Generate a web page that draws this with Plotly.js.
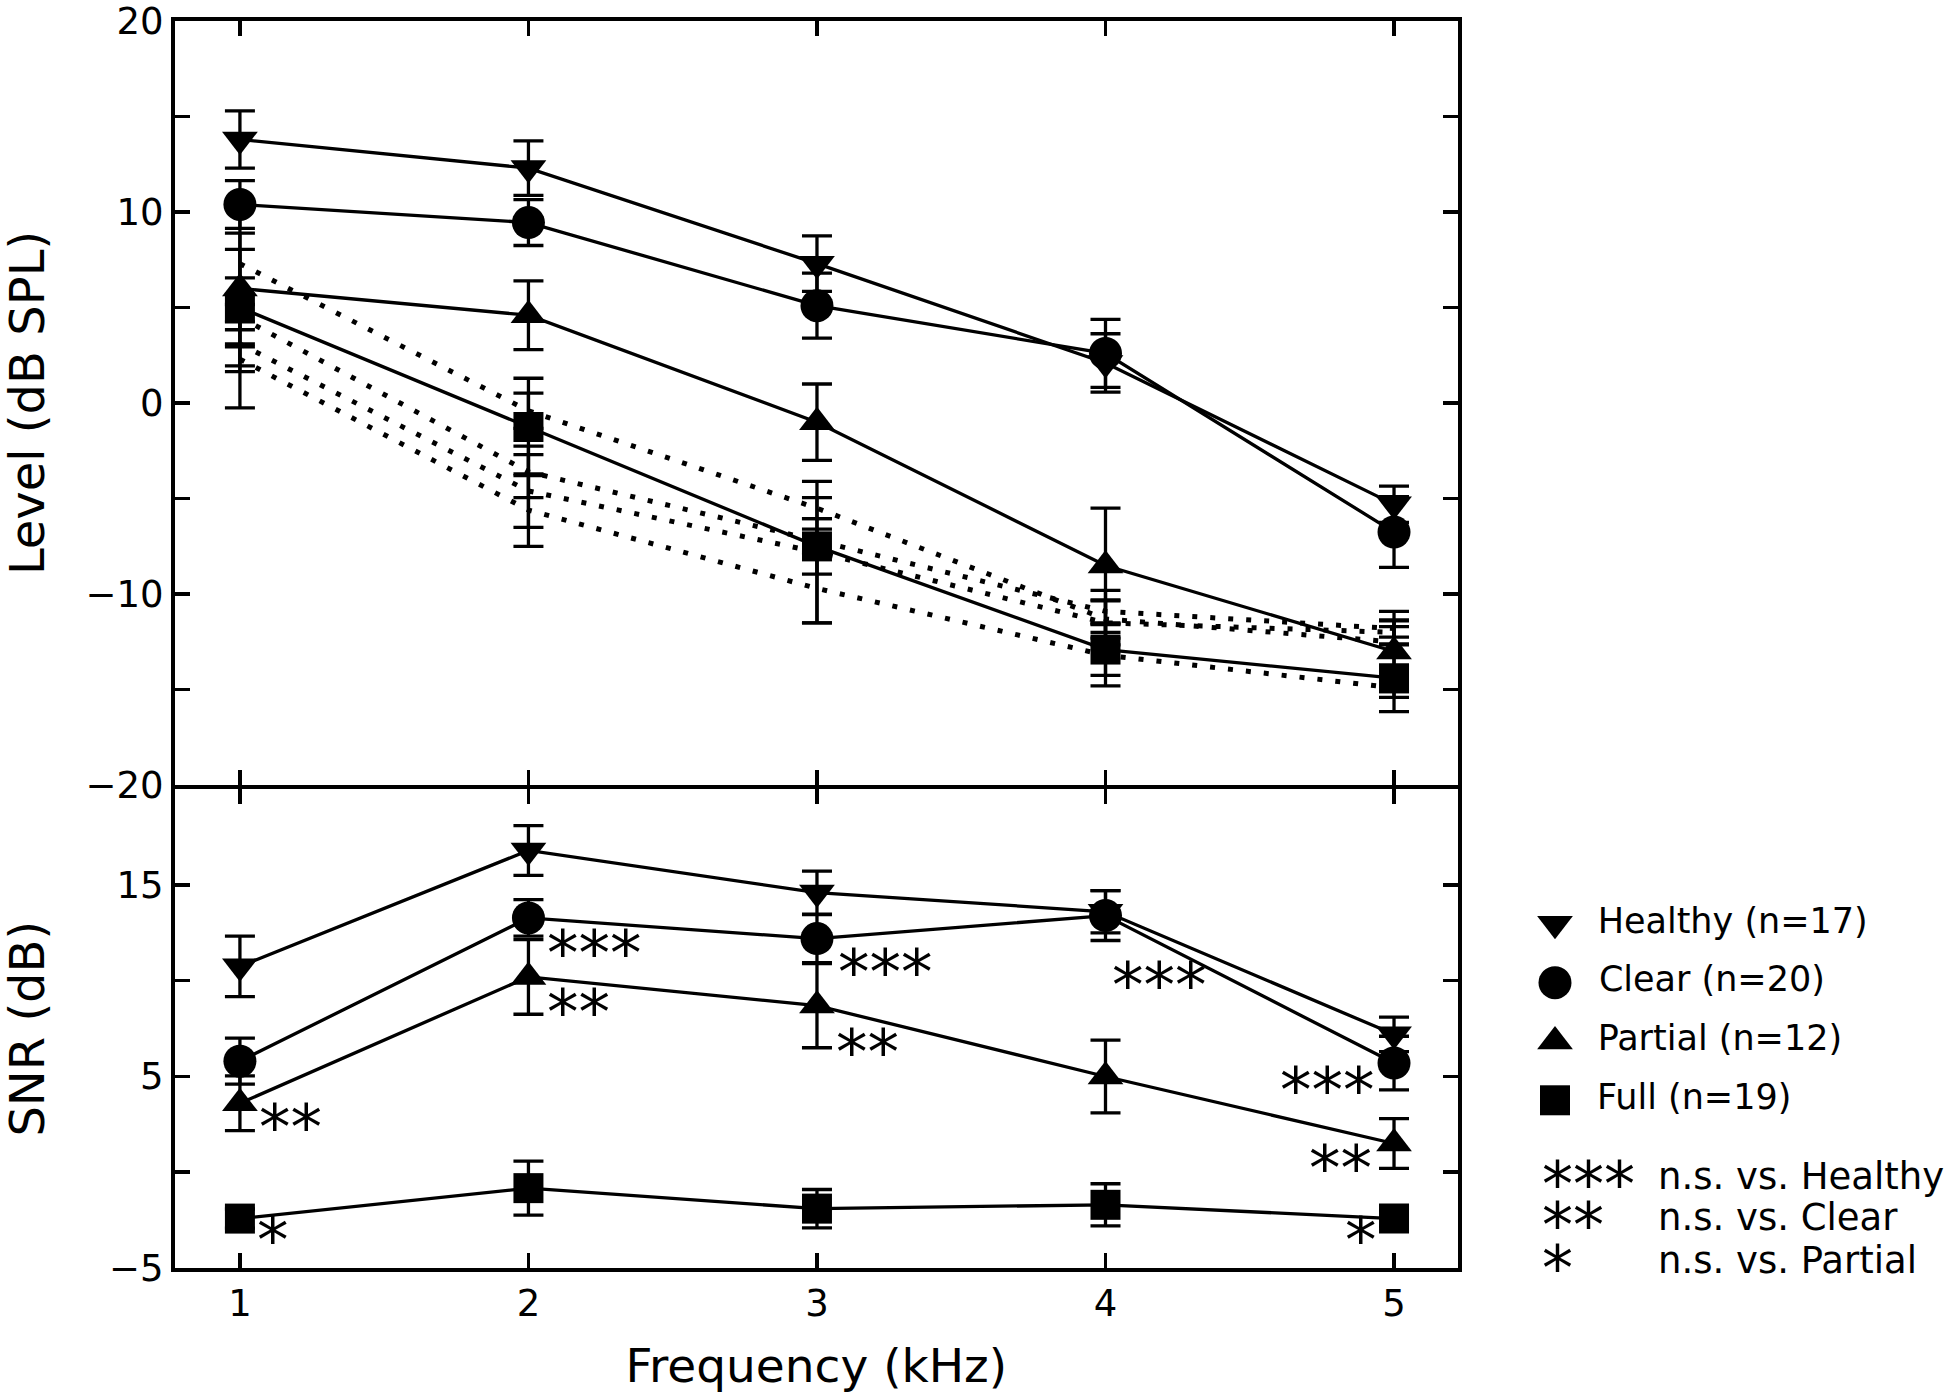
<!DOCTYPE html>
<html><head><meta charset="utf-8">
<script src="https://cdn.plot.ly/plotly-3.0.1.min.js"></script>
<style>html,body{margin:0;padding:0;background:#fff}</style>
</head><body><div id="chart" style="width:1950px;height:1393px"></div>
<script>
// ---------------- data ----------------
const freq = [1, 2, 3, 4, 5];
const groups = ['Healthy (n=17)', 'Clear (n=20)', 'Partial (n=12)', 'Full (n=19)'];

// Level (dB SPL) – top panel
const levelHealthy = [13.8, 12.3, 7.3, 2.1, -5.3];
const levelHealthyErr = [1.5, 1.43, 1.45, 1.53, 0.95];
const levelClear = [10.4, 9.45, 5.1, 2.6, -6.75];
const levelClearErr = [1.25, 1.2, 1.7, 1.78, 1.85];
const levelPartial = [6.0, 4.6, -1.0, -8.5, -13.0];
const levelPartialErr = [2.9, 1.8, 2.0, 3.0, 2.1];
const levelFull = [5.0, -1.25, -7.5, -12.9, -14.4];
const levelFullErr = [5.25, 2.55, 1.45, 1.35, 1.75];

// Noise floors (dotted)
const noiseA = [7.3, -0.4, -5.5, -11.3, -12.5];
const noiseAErr = [0.75, 0.92, 0.55, 1.0, 0.8];
const noiseB = [4.5, -3.6, -7.2, -10.9, -11.8];
const noiseBErr = [0.66, 1.35, 0.6, 1.1, 0.45];
const noiseC = [3.1, -4.6, -7.8, -11.5, -12.0];
const noiseCErr = [1.15, 1.9, 3.7, 1.15, 0.6];
const noiseD = [2.3, -5.6, -9.7, -13.2, -14.9];
const noiseDErr = [0.65, 1.9, 1.8, 1.6, 0.5];

// SNR (dB) – bottom panel
const snrHealthy = [10.75, 16.8, 14.6, 13.6, 7.2];
const snrHealthyErr = [1.58, 1.3, 1.12, 1.1, 0.9];
const snrClear = [5.8, 13.28, 12.2, 13.4, 5.7];
const snrClearErr = [1.2, 0.95, 1.25, 1.3, 1.4];
const snrPartial = [3.6, 10.2, 8.7, 5.0, 1.5];
const snrPartialErr = [1.43, 1.95, 2.2, 1.9, 1.3];
const snrFull = [-2.42, -0.83, -1.9, -1.7, -2.42];
const snrFullErr = [0.5, 1.41, 1.0, 1.1, 0.4];

// significance marks (which group, at which frequency)
const sigFreqIdx = [0, 0, 1, 1, 2, 2, 3, 4, 4, 4];
const sigGroupIdx = [2, 3, 1, 2, 1, 2, 1, 1, 2, 3];
const sigText = ['**', '*', '***', '**', '***', '**', '***', '***', '**', '*'];

const keyStars = ['***', '**', '*'];
const keyText = ['n.s. vs. Healthy', 'n.s. vs. Clear', 'n.s. vs. Partial'];

const yTopTicks = [-20, -15, -10, -5, 0, 5, 10, 15, 20];
const yTopLabels = ['\u221220', '', '\u221210', '', '0', '', '10', '', '20'];
const yBotTicks = [-5, 0, 5, 10, 15, 20];
const yBotLabels = ['\u22125', '', '5', '', '15', ''];

// ---------------- styling / placement ----------------
const symbols = ['triangle-down', 'circle', 'triangle-up', 'square'];
const markerSizes = [31, 33, 31, 30];
const FONT = 'DejaVu Sans, Verdana, sans-serif';
const W = 1950, H = 1393;
const mL = 175, mR = 0, mT = 21, mB = 125;
const plotW = W - mL - mR, plotH = H - mT - mB;
const mainRightPx = 1457.5;
const xDomMain = [0, (mainRightPx - mL) / plotW];
const dividerPx = 787.2;
const splitLo = (H - mB - dividerPx - 2) / plotH;   // bottom panel top edge
const splitHi = (H - mB - dividerPx + 2) / plotH;   // top panel bottom edge
const LW = 3.3;
// placement of the significance marks relative to their point (px)
const sigDx = [17, 15, 17, 17, 19, 17, 4, -17, -20, -15];
const sigDy = [-24, -22, -36, -36, -34, -47, -70, -27, -25, -22];

const levelSeries = [levelHealthy, levelClear, levelPartial, levelFull];
const levelErrs = [levelHealthyErr, levelClearErr, levelPartialErr, levelFullErr];
const snrSeries = [snrHealthy, snrClear, snrPartial, snrFull];
const snrErrs = [snrHealthyErr, snrClearErr, snrPartialErr, snrFullErr];
const noiseSeries = [noiseA, noiseB, noiseC, noiseD];
const noiseErrs = [noiseAErr, noiseBErr, noiseCErr, noiseDErr];

function errY(arr) {
  return {type: 'data', array: arr, visible: true, color: 'black', thickness: LW, width: 15};
}

const traces = [];
noiseSeries.forEach((s, i) => {
  traces.push({x: freq, y: s, xaxis: 'x2', yaxis: 'y2', mode: 'lines', showlegend: false,
    line: {color: 'black', width: 5, dash: '5px,13px'}, error_y: errY(noiseErrs[i]), hoverinfo: 'skip'});
});
levelSeries.forEach((s, i) => {
  traces.push({x: freq, y: s, xaxis: 'x2', yaxis: 'y2', mode: 'lines+markers', showlegend: false,
    line: {color: 'black', width: LW},
    marker: {symbol: symbols[i], size: markerSizes[i], color: '#000', opacity: 1, line: {width: 0}},
    error_y: errY(levelErrs[i]), name: groups[i]});
});
snrSeries.forEach((s, i) => {
  traces.push({x: freq, y: s, xaxis: 'x', yaxis: 'y', mode: 'lines+markers', showlegend: false,
    line: {color: 'black', width: LW},
    marker: {symbol: symbols[i], size: markerSizes[i], color: '#000', opacity: 1, line: {width: 0}},
    error_y: errY(snrErrs[i]), name: groups[i]});
});
// legend (symbols + labels) on its own hidden axes
traces.push({x: groups.map(() => 0), y: groups, xaxis: 'x3', yaxis: 'y3', mode: 'markers+text',
  showlegend: false, marker: {symbol: symbols, size: markerSizes, color: '#000', opacity: 1, line: {width: 0}},
  text: groups.map(g => '\u00a0\u00a0' + g), textposition: 'middle right',
  textfont: {family: FONT, size: 35, color: 'black'}, hoverinfo: 'skip', cliponaxis: false});

const axisCommon = {
  showline: true, linecolor: 'black', linewidth: 4, mirror: 'ticks',
  ticks: 'inside', ticklen: 15, tickwidth: 3.5, tickcolor: 'black',
  showgrid: false, zeroline: false, ticklabeloverflow: 'allow',
  tickfont: {family: FONT, size: 37, color: 'black'}
};

const annotations = [];
sigFreqIdx.forEach((fi, k) => {
  const g = sigGroupIdx[k];
  annotations.push({
    x: freq[fi], y: snrSeries[g][fi], xref: 'x', yref: 'y', text: sigText[k], showarrow: false,
    xanchor: sigDx[k] < 0 ? 'right' : 'left', xshift: sigDx[k], yshift: sigDy[k],
    font: {family: FONT, size: 63, color: 'black'}
  });
});
const keyY = [1176, 1217, 1260];
keyStars.forEach((s, k) => {
  const yp = (H - mB - keyY[k]) / plotH;
  annotations.push({x: (1540 - mL) / plotW, y: yp, xref: 'paper', yref: 'paper', text: s,
    showarrow: false, xanchor: 'left', yanchor: 'middle', yshift: -8,
    font: {family: FONT, size: 62, color: 'black'}});
  annotations.push({x: (1656 - mL) / plotW, y: yp, xref: 'paper', yref: 'paper', text: keyText[k],
    showarrow: false, xanchor: 'left', yanchor: 'middle',
    font: {family: FONT, size: 37, color: 'black'}});
});
// y-axis titles
const yTitleX = (27 - mL) / plotW;
annotations.push({x: yTitleX, y: (splitHi + 1) / 2, xref: 'paper', yref: 'paper', text: 'Level (dB SPL)',
  textangle: -90, showarrow: false, xanchor: 'center', yanchor: 'middle',
  font: {family: FONT, size: 48, color: 'black'}});
annotations.push({x: yTitleX, y: splitLo / 2, xref: 'paper', yref: 'paper', text: 'SNR (dB)',
  textangle: -90, showarrow: false, xanchor: 'center', yanchor: 'middle',
  font: {family: FONT, size: 48, color: 'black'}});

const legTop = 923.8 - 29.4, legBot = 1100.3 + 29.4;

const layout = {
  width: W, height: H,
  margin: {l: mL, r: mR, t: mT, b: mB, pad: 0},
  paper_bgcolor: 'white', plot_bgcolor: 'white',
  font: {family: FONT, color: 'black'},
  showlegend: false,
  xaxis: Object.assign({}, axisCommon, {domain: xDomMain, anchor: 'y', range: [0.775, 5.22],
    tickvals: freq, ticktext: freq.map(String),
    title: {text: 'Frequency (kHz)', font: {family: FONT, size: 47, color: 'black'}}}),
  xaxis2: Object.assign({}, axisCommon, {domain: xDomMain, anchor: 'y2', range: [0.775, 5.22],
    tickvals: freq, showticklabels: false}),
  yaxis: Object.assign({}, axisCommon, {domain: [0, splitLo], anchor: 'x', range: [-5, 20],
    tickvals: yBotTicks, ticktext: yBotLabels}),
  yaxis2: Object.assign({}, axisCommon, {domain: [splitHi, 1], anchor: 'x2', range: [-20, 20],
    tickvals: yTopTicks, ticktext: yTopLabels}),
  xaxis3: {domain: [(1520 - mL) / plotW, 1], range: [-35, 395], visible: false, fixedrange: true},
  yaxis3: {domain: [(H - mB - legBot) / plotH, (H - mB - legTop) / plotH], anchor: 'x3',
    type: 'category', range: [3.5, -0.5], visible: false, fixedrange: true},
  annotations: annotations
};

Plotly.newPlot('chart', traces, layout, {displayModeBar: false, staticPlot: true});
</script></body></html>
